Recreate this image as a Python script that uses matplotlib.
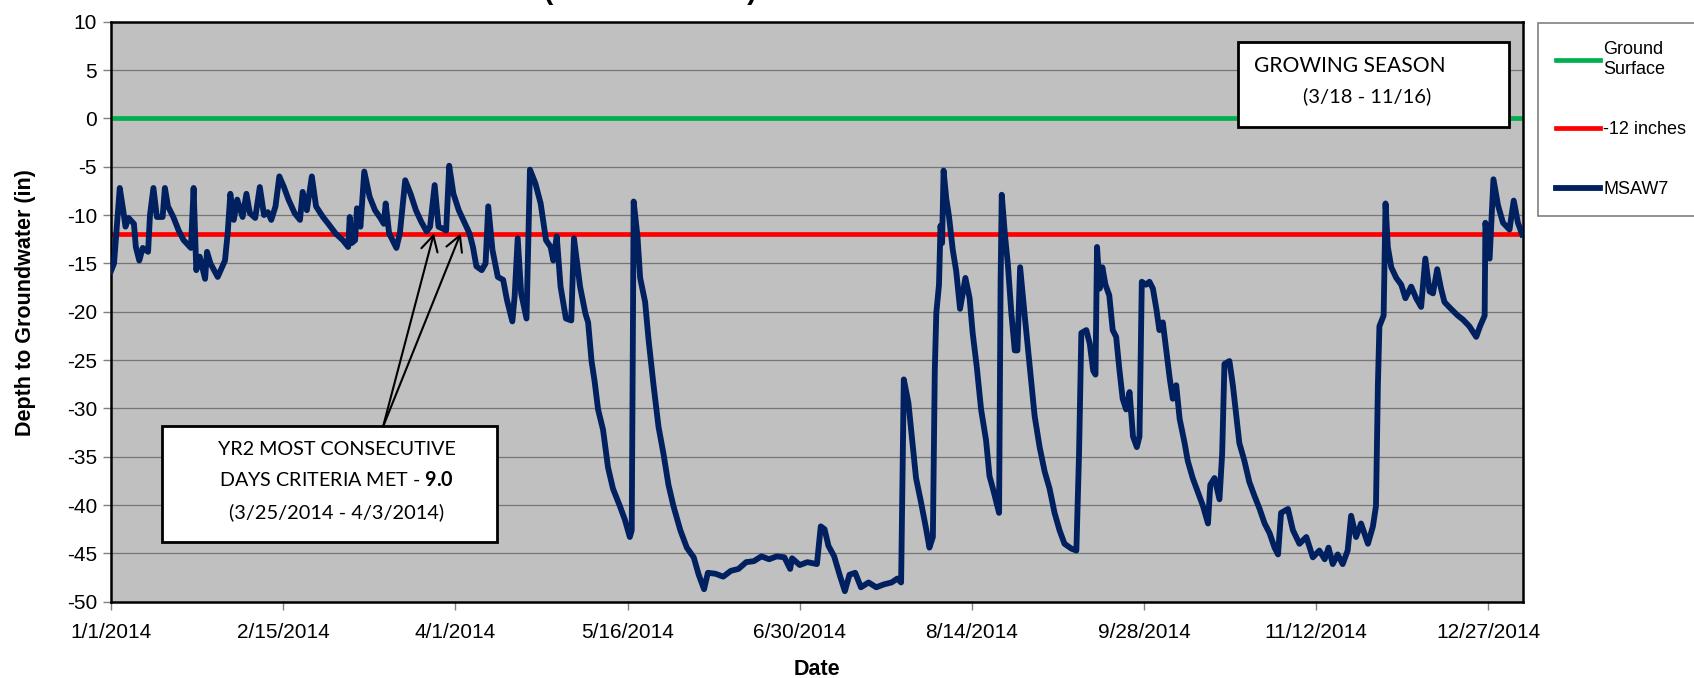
import matplotlib
matplotlib.use("Agg")
import matplotlib.pyplot as plt
import matplotlib.dates as mdates
import matplotlib.patches as mpatches
import numpy as np
import pandas as pd

plt.rcParams["font.family"] = ["Liberation Sans", "DejaVu Sans"]
plt.rcParams["axes.unicode_minus"] = False
plt.rcParams["mathtext.fontset"] = "custom"
plt.rcParams["mathtext.rm"] = "Lato"
plt.rcParams["mathtext.bf"] = "Lato:bold"

# ---------------------------------------------------------------------------
# Data -- days since 1/1/2014, depth in inches
# ---------------------------------------------------------------------------
START = pd.Timestamp("2014-01-01")
END = pd.Timestamp("2015-01-05")

OBS_DAY = [
    0.0, 0.8, 2.3, 3.2, 3.8, 4.6, 6.0, 6.5, 7.4, 8.3, 9.7, 10.2, 11.1, 12.0,
    13.5, 14.1, 14.9, 16.3, 17.7, 19.0, 20.9, 21.6, 22.3, 23.2, 24.6, 25.1,
    26.0, 27.9, 29.8, 30.5, 31.2, 32.1, 33.0, 34.4, 35.4, 36.3, 37.7, 38.9,
    40.0, 41.0, 41.9, 43.0, 44.0, 45.2, 46.4, 48.0, 49.4, 50.1, 51.2, 52.5,
    53.6, 55.4, 56.8, 58.7, 60.6, 62.0, 62.4, 62.9, 63.8, 64.3, 65.2, 66.2,
    67.6, 69.0, 70.4, 71.3, 71.8, 72.7, 74.6, 75.5, 76.9, 78.3, 79.7, 81.1,
    82.5, 83.4, 84.6, 85.6, 86.7, 87.6, 88.4, 89.5, 90.9, 92.3, 93.7, 94.6,
    95.5, 96.9, 97.9, 98.6, 99.7, 101.1, 102.5, 103.5, 104.9, 105.5, 106.3,
    107.2, 108.6, 109.5, 110.9, 112.3, 113.7, 114.9, 115.6, 116.5, 117.5,
    118.9, 120.3, 121.0, 122.6, 124.0, 124.7, 125.6, 126.4, 127.3, 128.6,
    129.9, 131.2, 133.0, 134.3, 135.6, 136.1, 136.6, 137.6, 138.3, 139.6,
    140.5, 141.8, 143.1, 144.4, 145.7, 147.0, 148.8, 150.5, 152.3, 153.6,
    155.0, 156.0, 158.0, 160.0, 162.0, 164.0, 166.0, 168.0, 170.0, 172.0,
    174.0, 176.0, 177.5, 178.0, 180.0, 182.0, 184.5, 185.5, 186.5, 187.5,
    189.0, 190.5, 191.8, 193.0, 194.5, 196.0, 198.0, 200.0, 202.0, 204.0,
    205.5, 206.5, 207.2, 208.4, 209.4, 210.4, 211.7, 213.1, 213.9, 214.8,
    215.3, 215.7, 216.4, 216.8, 217.2, 217.6, 218.3, 219.0, 220.0, 220.9,
    221.9, 223.3, 224.4, 225.2, 226.3, 227.4, 228.7, 229.6, 230.5, 231.4,
    232.1, 232.5, 232.8, 233.6, 234.4, 235.3, 236.2, 236.9, 237.6, 238.8,
    239.6, 240.5, 241.4, 242.7, 244.0, 245.3, 246.6, 247.9, 249.2, 251.0,
    252.3, 253.0, 253.6, 254.9, 255.8, 256.7, 257.3, 257.7, 258.4, 259.1,
    259.9, 260.9, 261.8, 262.7, 263.5, 264.4, 265.3, 266.2, 267.1, 268.1,
    268.8, 269.4, 270.5, 271.4, 272.3, 273.2, 274.0, 274.9, 275.8, 276.7,
    277.5, 278.4, 279.3, 280.6, 281.4, 282.7, 284.0, 285.4, 286.7, 287.3,
    288.4, 289.7, 290.4, 291.0, 292.3, 293.2, 294.0, 294.9, 296.2, 297.5,
    298.8, 300.2, 301.5, 302.8, 304.1, 305.0, 305.8, 307.6, 308.9, 310.6,
    312.4, 314.1, 315.8, 317.2, 318.2, 319.3, 320.6, 321.9, 323.2, 324.1,
    325.4, 326.7, 328.5, 329.8, 330.6, 331.1, 331.5, 332.6, 333.1, 333.7,
    334.6, 335.9, 337.2, 338.3, 339.8, 341.1, 342.4, 343.5, 344.6, 345.5,
    346.6, 347.6, 348.5, 350.2, 352.0, 353.3, 355.0, 356.8, 357.8, 359.0,
    359.2, 360.3, 361.3, 362.5, 363.8, 365.5, 366.6, 367.7, 368.8,
]

MSAW7_DEPTH = [
    -15.8, -15.0, -7.2, -9.5, -11.2, -10.3, -10.9, -13.3, -14.7, -13.4, -13.8, -10.0, -7.2, -10.2,
    -10.2, -7.2, -9.1, -10.2, -11.6, -12.6, -13.4, -7.2, -15.7, -14.3, -16.6, -13.8,
    -15.0, -16.4, -14.7, -11.9, -7.8, -10.5, -8.4, -10.2, -7.8, -9.8, -10.3, -7.1,
    -10.0, -9.7, -10.5, -9.1, -6.0, -7.1, -8.4, -9.8, -10.5, -7.6, -9.5, -6.0,
    -9.1, -10.2, -10.9, -11.9, -12.6, -13.3, -10.2, -12.9, -12.6, -9.3, -11.2, -5.5,
    -8.1, -9.5, -10.3, -10.9, -8.8, -11.9, -13.4, -11.9, -6.4, -7.8, -9.5, -10.7,
    -11.7, -11.2, -6.9, -11.2, -11.4, -11.6, -4.9, -7.8, -9.5, -10.7, -11.9, -13.3,
    -15.3, -15.7, -15.0, -9.1, -13.6, -16.4, -16.7, -18.8, -21.0, -18.4, -12.4,
    -18.1, -20.7, -5.3, -6.7, -8.8, -12.6, -13.3, -14.7, -12.2, -17.4,
    -20.7, -20.9, -12.4, -17.4, -20.2, -21.1, -25.1, -27.2, -30.1, -32.2,
    -36.1, -38.3, -40.1, -41.5, -43.3, -42.6, -8.6, -12.2, -16.5, -19.0,
    -22.9, -27.6, -31.9, -34.7, -37.9, -40.1, -42.6, -44.4, -45.4, -47.2,
    -48.7, -47.0, -47.1, -47.4, -46.8, -46.6, -45.9, -45.8, -45.3, -45.6,
    -45.3, -45.4, -46.6, -45.5, -46.2, -45.9, -46.1, -42.2, -42.5, -44.2,
    -45.3, -47.3, -48.9, -47.2, -47.0, -48.5, -48.0, -48.5, -48.2, -48.0,
    -47.6, -48.0, -27.0, -29.4, -33.3, -37.2, -39.7, -42.6, -44.4, -43.3,
    -26.1, -20.1, -17.2, -11.1, -12.9, -5.4, -8.3, -10.1, -13.6, -15.8,
    -19.7, -16.5, -18.6, -22.2, -25.8, -30.1, -33.3, -37.0, -38.3, -39.7,
    -40.8, -16.9, -7.9, -11.9, -15.1, -20.1, -24.0, -24.0, -15.4, -20.4,
    -23.6, -27.2, -30.8, -34.0, -36.5, -38.3, -40.8, -42.6, -44.0, -44.5,
    -44.7, -34.7, -22.2, -21.9, -23.3, -26.1, -26.5, -13.3, -17.6, -15.4,
    -17.2, -18.3, -21.9, -22.6, -25.8, -29.0, -30.1, -28.3, -32.9, -34.0,
    -32.9, -16.9, -17.2, -16.9, -17.6, -19.7, -21.9, -21.1, -24.0, -26.9,
    -29.0, -27.6, -31.1, -33.6, -35.4, -37.2, -38.6, -40.1, -41.9, -37.9,
    -37.2, -39.4, -34.7, -25.4, -25.1, -27.6, -30.4, -33.6, -35.4, -37.6,
    -39.0, -40.4, -41.9, -42.9, -44.4, -45.1, -40.8, -40.4, -42.6, -44.0,
    -43.3, -45.4, -44.7, -45.6, -44.4, -46.1, -45.1, -46.1, -44.7, -41.1,
    -43.3, -41.9, -44.0, -42.2, -40.1, -27.6, -21.5, -20.4, -8.8, -13.3,
    -15.4, -16.5, -17.2, -18.6, -17.4, -18.6, -19.5, -14.5, -17.9, -18.1,
    -15.6, -17.6, -19.0, -19.7, -20.4, -20.8, -21.5, -22.6, -21.5, -20.4,
    -10.8, -14.5, -6.3, -9.0, -10.8, -11.5, -8.5, -10.8, -12.0,
]

GROUND_SURFACE = 0.0      # in
CRITERIA_DEPTH = -12.0    # in

TICK_DATES = ["2014-01-01", "2014-02-15", "2014-04-01", "2014-05-16", "2014-06-30",
              "2014-08-14", "2014-09-28", "2014-11-12", "2014-12-27"]
Y_TICKS = list(range(-50, 11, 5))

# annotation: consecutive-days window (arrow tips at the -12 in. crossings)
WINDOW_DAYS = [84.4, 91.4]

NAVY = "#002060"
GREEN = "#00B050"
RED = "#FF0000"


def main():
    fig = plt.figure(figsize=(16.94, 6.78), dpi=100)
    ax = fig.add_axes([0.0655, 0.1124, 0.8335, 0.8556])
    ax.set_facecolor("#C0C0C0")

    dates = START + pd.to_timedelta(OBS_DAY, unit="D")

    # gridlines
    ax.set_yticks(Y_TICKS)
    ax.yaxis.grid(True, color="#767676", lw=0.9, zorder=0)
    ax.set_axisbelow(True)

    h_ground = ax.axhline(GROUND_SURFACE, color=GREEN, lw=3.4, zorder=2)
    h_crit = ax.axhline(CRITERIA_DEPTH, color=RED, lw=3.4, zorder=2)
    h_well, = ax.plot(dates, MSAW7_DEPTH, color=NAVY, lw=4.2,
                      solid_joinstyle="round", zorder=3)

    ax.set_xlim(START, END)
    ax.set_ylim(-50, 10)

    ticks = pd.to_datetime(TICK_DATES)
    ax.set_xticks(ticks)
    ax.set_xticklabels([f"{d.month}/{d.day}/{d.year}" for d in ticks])
    ax.set_yticklabels([str(v) for v in Y_TICKS])
    ax.tick_params(axis="both", labelsize=15, color="#808080", length=6,
                   width=1.0, direction="out")
    ax.tick_params(axis="x", pad=9)
    ax.tick_params(axis="y", pad=4)

    for side in ("left", "right", "top", "bottom"):
        ax.spines[side].set_linewidth(1.8)
        ax.spines[side].set_color("black")

    ax.set_xlabel("Date", fontsize=15.5, fontweight="bold")
    ax.set_ylabel("Depth to Groundwater (in)", fontsize=15.5, fontweight="bold")
    ax.xaxis.set_label_coords(0.5, -0.098)
    ax.yaxis.set_label_coords(-0.053, 0.515)

    # ── arrows to the consecutive-day window ────────────────────────────
    x0 = mdates.date2num(START)
    for d in WINDOW_DAYS:
        ax.annotate(
            "", xy=(x0 + d, -11.9), xytext=(x0 + 71.1, -31.9),
            arrowprops=dict(arrowstyle="->,head_length=0.55,head_width=0.3",
                            color="black", lw=1.5, mutation_scale=20,
                            shrinkA=0, shrinkB=0),
            zorder=6,
        )

    # ── text boxes ───────────────────────────────────────────────────────
    box_font = ["Lato", "DejaVu Sans"]
    ax.add_patch(mpatches.Rectangle((0.0361, 0.1030), 0.2373, 0.2000,
                                    transform=ax.transAxes, facecolor="white",
                                    edgecolor="black", lw=2.0, zorder=7))
    ax.text(0.160, 0.2617, "YR2 MOST CONSECUTIVE", transform=ax.transAxes,
            ha="center", va="center", fontsize=14.2, family=box_font, zorder=8)
    ax.text(0.160, 0.2100, r"DAYS CRITERIA MET - $\mathbf{9.0}$",
            transform=ax.transAxes, ha="center", va="center", fontsize=14.2,
            family=box_font, zorder=8)
    ax.text(0.160, 0.1548, "(3/25/2014 - 4/3/2014)", transform=ax.transAxes,
            ha="center", va="center", fontsize=14.4, family=box_font, zorder=8)

    ax.add_patch(mpatches.Rectangle((0.798, 0.818), 0.192, 0.147,
                                    transform=ax.transAxes, facecolor="white",
                                    edgecolor="black", lw=2.0, zorder=7))
    ax.text(0.8095, 0.924, "GROWING SEASON", transform=ax.transAxes,
            ha="left", va="center", fontsize=15.1, family=box_font, zorder=8)
    ax.text(0.844, 0.872, "(3/18 - 11/16)", transform=ax.transAxes,
            ha="left", va="center", fontsize=14.5, family=box_font, zorder=8)

    # ── legend (frame runs past the right edge, as in the original) ──────
    leg = ax.legend([h_ground, h_crit, h_well],
                    ["Ground\nSurface", "-12 inches", "MSAW7"],
                    loc="upper left",
                    bbox_to_anchor=(1538 / 1694, 0.40, 0.12, 1 - 23 / 678 - 0.40),
                    bbox_transform=fig.transFigure, mode="expand", fontsize=13.0,
                    handlelength=2.45, handletextpad=0.15, labelspacing=2.4,
                    borderpad=1.0, borderaxespad=0, fancybox=False,
                    framealpha=1, edgecolor="#808080")
    leg.get_frame().set_linewidth(1.2)

    # title (clipped at the top edge of the image)
    fig.text(757 / 1694, 1.002, "MSAW7 (YEAR 2 - 2014)", ha="right",
             va="baseline", fontsize=20.8, fontweight="bold")

    fig.savefig("out.png", dpi=100)
    plt.close(fig)


if __name__ == "__main__":
    main()
